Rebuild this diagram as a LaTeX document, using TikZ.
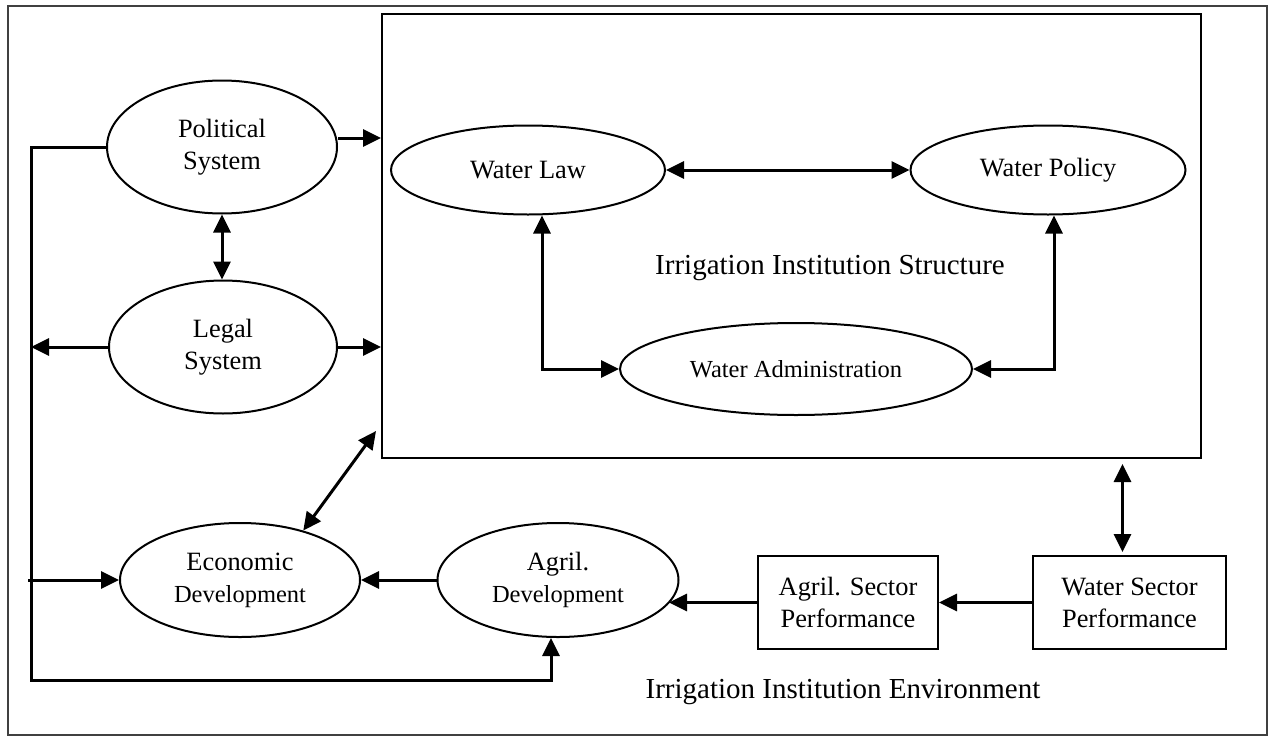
\documentclass[tikz,border=0pt]{standalone}
\usepackage{fontspec}
\setmainfont{Liberation Serif}
\usetikzlibrary{arrows.meta,shapes.geometric}

\newcommand{\mainsize}{\fontsize{26.4}{32}\selectfont}
\newcommand{\devsize}{\fontsize{24.5}{30}\selectfont}
\newcommand{\titlesize}{\fontsize{29}{34}\selectfont}

\begin{document}
\begin{tikzpicture}[x=1pt, y=-1pt,
  oval/.style={draw, ellipse, line width=2pt, inner sep=0pt, align=center, font=\mainsize},
  sectorbox/.style={draw, line width=2pt, align=center, font=\mainsize, minimum height=93pt},
  arr/.style={line width=3pt, -{Triangle[length=18pt,width=17pt]}},
  arrs/.style={line width=3pt, {Triangle[length=18pt,width=17pt]}-{Triangle[length=18pt,width=17pt]}}]
  \useasboundingbox (0,0) rectangle (1268,736);
  \draw[line width=1.5pt, black!75] (8,6) rectangle (1267,735);

  \node[draw, line width=2pt, minimum width=819pt, minimum height=444pt] (ins) at (791.5,236) {};
  \node[font=\titlesize] (iis) at (830,268) {Irrigation Institution Structure};
  \node[font=\titlesize] (iie) at (843,692) {Irrigation Institution Environment};

  \node[oval, minimum width=230pt, minimum height=133pt] (pol) at (222,147) {Political\\System};
  \node[oval, minimum width=228pt, minimum height=133pt] (leg) at (223,347) {Legal\\System};
  \node[oval, minimum width=240pt, minimum height=114pt] (eco) at (240,580) {Economic\\{\devsize Development}};
  \node[oval, minimum width=241pt, minimum height=114pt] (agd) at (558,580) {Agril.\\{\devsize Development}};
  \node[oval, minimum width=274pt, minimum height=89pt] (law) at (528,170) {Water Law};
  \node[oval, minimum width=275pt, minimum height=89pt] (pcy) at (1048,170) {Water Policy};
  \node[oval, minimum width=352pt, minimum height=92pt, font=\devsize] (adm) at (796,369) {Water Administration};
  \node[sectorbox, minimum width=180pt] (agsec) at (848,602.5) {Agril. Sector\\Performance};
  \node[sectorbox, minimum width=193pt] (wsec) at (1129.5,602.5) {Water Sector\\Performance};

  \coordinate (lft) at (31,680);
  \coordinate (dg) at ([shift={(-5pt,28pt)}]ins.south west);

  \draw[arrs] (pol.south) -- (pol.south |- leg.north);
  \draw[arr] ([yshift=9pt]pol.east) -- ([yshift=9pt]pol.east -| ins.west);
  \draw[arr] (leg.east) -- (leg.east -| ins.west);
  \draw[arr] (leg.west) -- (leg.west -| lft);
  \draw[arr] (pol.west) -| (lft) -| ([xshift=-7pt]agd.south);
  \draw[arr] ([xshift=-3pt]eco.west -| lft) -- (eco.west);
  \draw[arr] (agd.west) -- (eco.east);
  \draw[arrs] (eco.38) -- (dg);
  \draw[arr] (agsec.west) -- (agsec.west -| agd.-12);
  \draw[arr] (wsec.west) -- (agsec.east);
  \draw[arrs, shorten <=3pt, shorten >=5pt] ([xshift=-7pt]wsec.north) -- ([xshift=-7pt]wsec.north |- ins.south);

  \draw[arrs] (law.east) -- (pcy.west);
  \draw[arrs] ([xshift=14pt]law.south) |- (adm.west);
  \draw[arrs] ([xshift=6pt]pcy.south) |- (adm.east);
\end{tikzpicture}
\end{document}
